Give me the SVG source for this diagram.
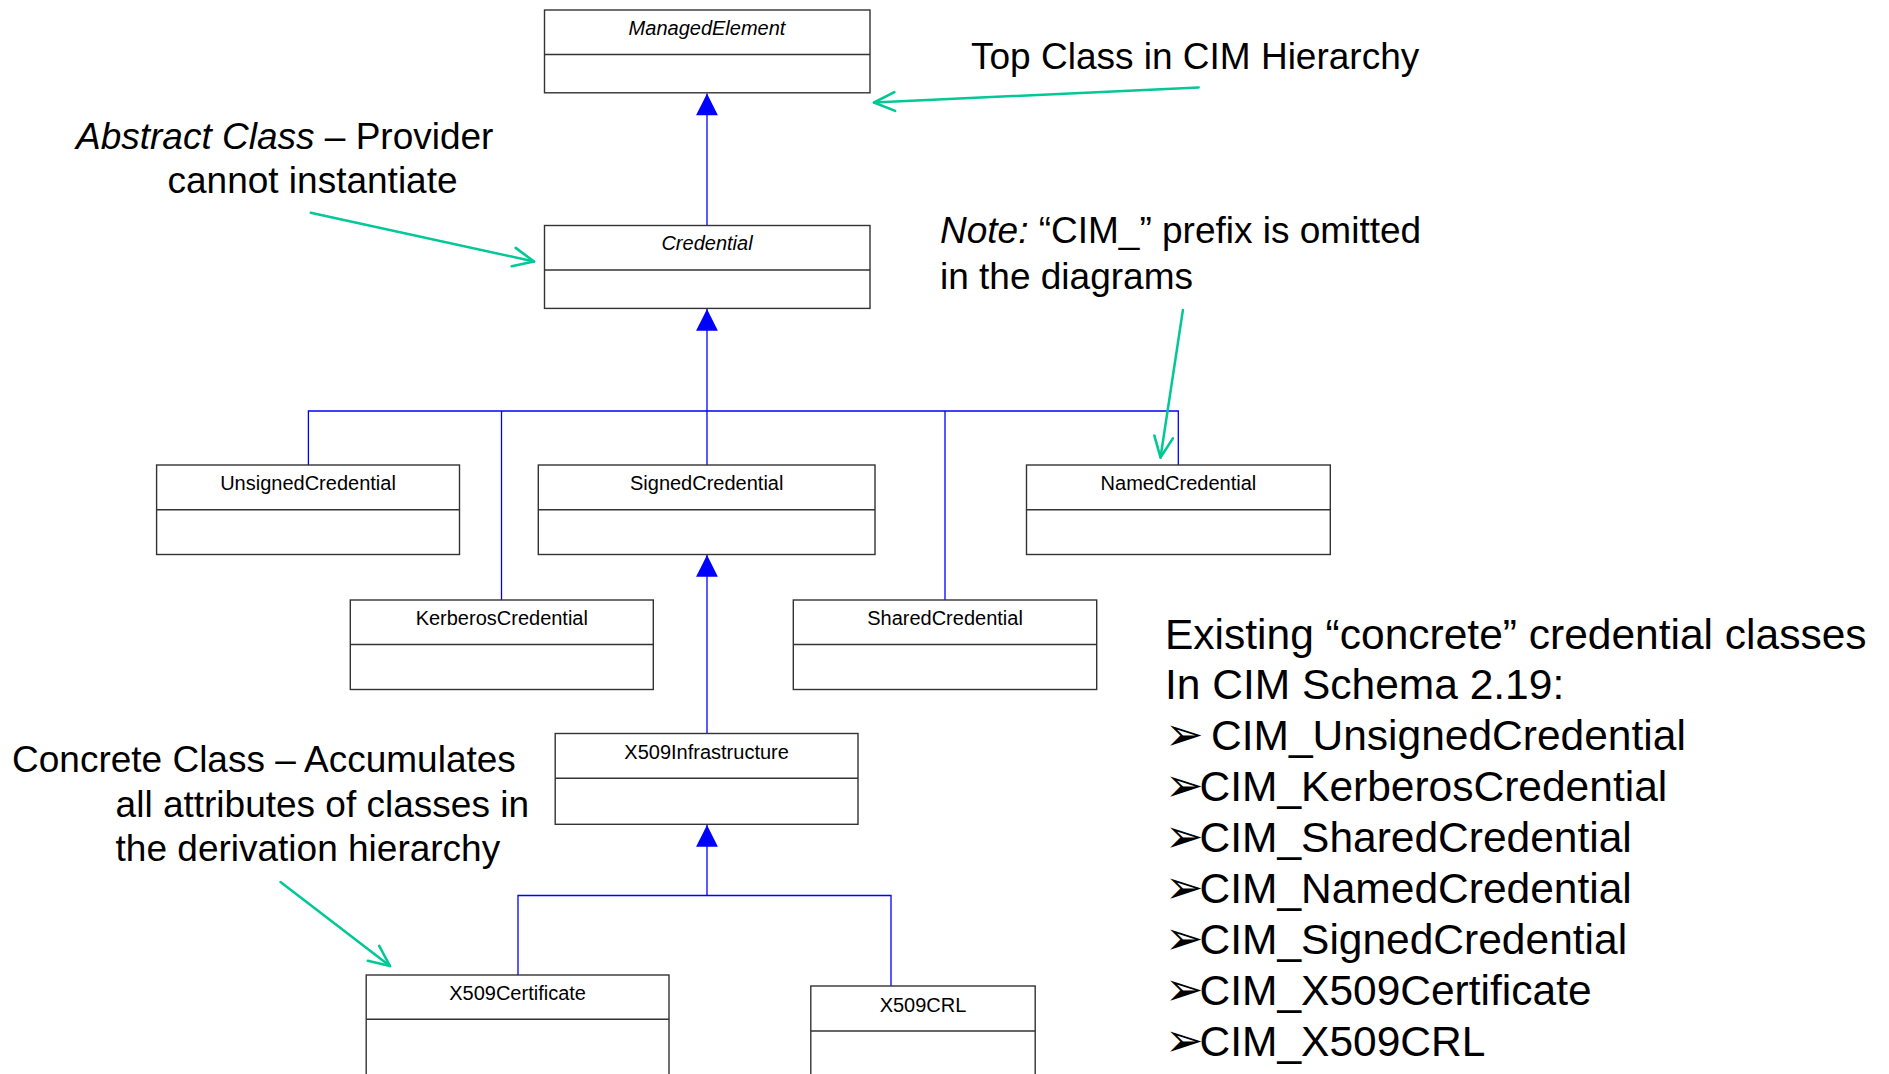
<svg xmlns="http://www.w3.org/2000/svg" width="1889" height="1074" viewBox="0 0 1889 1074">
<defs>
<style>
.box{fill:#fff;stroke:#333;stroke-width:1.4}
.div{stroke:#333;stroke-width:1.4}
.cls{font-family:"Liberation Sans",Arial,sans-serif;font-size:20px;text-anchor:middle;fill:#000}
.it{font-style:italic}
.ann{font-family:"Liberation Sans",Arial,sans-serif;font-size:37px;fill:#000}
.big{font-family:"Liberation Sans",Arial,sans-serif;font-size:42.5px;fill:#000}
.bul{font-family:"DejaVu Sans",sans-serif;font-size:46px}
.conn{stroke:#0000ff;stroke-width:1.3;fill:none}
.callout{stroke:#00c896;stroke-width:2.5;fill:none;stroke-linecap:round}
</style>
<marker id="inh" markerUnits="userSpaceOnUse" markerWidth="24" markerHeight="24" viewBox="-21 -11 22 22" refX="0" refY="0" orient="auto">
<path d="M0,0 L-20,-10 L-20,10 Z" fill="#0000ff"/>
</marker>
<marker id="open" markerUnits="userSpaceOnUse" markerWidth="26" markerHeight="26" viewBox="-23 -12 25 24" refX="0" refY="0" orient="auto">
<path d="M-20,-9 L0,0 L-20,9" fill="none" stroke="#00c896" stroke-width="2.5" stroke-linecap="round" stroke-linejoin="round"/>
</marker>
</defs>
<rect width="1889" height="1074" fill="#fff"/>

<g id="connectors">
<path class="conn" d="M707,225.5 V93.5" marker-end="url(#inh)"/>
<path class="conn" d="M707,411 V309" marker-end="url(#inh)"/>
<path class="conn" d="M308.4,465 V411 H1178.3 V465 M501.5,411 V600 M707,411 V465 M945,411 V600"/>
<path class="conn" d="M707,733.5 V555" marker-end="url(#inh)"/>
<path class="conn" d="M707,895.5 V825" marker-end="url(#inh)"/>
<path class="conn" d="M518,975 V895.5 H891 V986"/>
</g>

<g id="managed-element">
<rect class="box" x="544.5" y="10" width="325.5" height="82.8"/>
<line class="div" x1="544.5" y1="54.5" x2="870" y2="54.5"/>
<text class="cls it" x="707" y="35">ManagedElement</text>
</g>
<g id="credential">
<rect class="box" x="544.5" y="225.5" width="325.5" height="82.9"/>
<line class="div" x1="544.5" y1="270" x2="870" y2="270"/>
<text class="cls it" x="707" y="250">Credential</text>
</g>
<g id="unsigned-credential">
<rect class="box" x="156.6" y="465" width="302.9" height="89.5"/>
<line class="div" x1="156.6" y1="509.7" x2="459.5" y2="509.7"/>
<text class="cls" x="308" y="490">UnsignedCredential</text>
</g>
<g id="signed-credential">
<rect class="box" x="538.3" y="465" width="336.7" height="89.5"/>
<line class="div" x1="538.3" y1="509.7" x2="875" y2="509.7"/>
<text class="cls" x="706.7" y="490">SignedCredential</text>
</g>
<g id="named-credential">
<rect class="box" x="1026.5" y="465" width="303.8" height="89.5"/>
<line class="div" x1="1026.5" y1="509.7" x2="1330.3" y2="509.7"/>
<text class="cls" x="1178.4" y="490">NamedCredential</text>
</g>
<g id="kerberos-credential">
<rect class="box" x="350.3" y="600" width="303" height="89.5"/>
<line class="div" x1="350.3" y1="644.5" x2="653.3" y2="644.5"/>
<text class="cls" x="501.8" y="625">KerberosCredential</text>
</g>
<g id="shared-credential">
<rect class="box" x="793.3" y="600" width="303.4" height="89.5"/>
<line class="div" x1="793.3" y1="644.5" x2="1096.7" y2="644.5"/>
<text class="cls" x="945" y="625">SharedCredential</text>
</g>
<g id="x509-infrastructure">
<rect class="box" x="555.2" y="733.5" width="302.8" height="90.8"/>
<line class="div" x1="555.2" y1="778.3" x2="858" y2="778.3"/>
<text class="cls" x="706.6" y="758.5">X509Infrastructure</text>
</g>
<g id="x509-certificate">
<rect class="box" x="366.2" y="975" width="302.8" height="110"/>
<line class="div" x1="366.2" y1="1019.3" x2="669" y2="1019.3"/>
<text class="cls" x="517.6" y="1000">X509Certificate</text>
</g>
<g id="x509-crl">
<rect class="box" x="810.8" y="986" width="224.4" height="100"/>
<line class="div" x1="810.8" y1="1031" x2="1035.2" y2="1031"/>
<text class="cls" x="923" y="1012">X509CRL</text>
</g>

<g id="annotations">
<text class="ann" x="971" y="68.5">Top Class in CIM Hierarchy</text>
<path class="callout" d="M1198.7,87.5 L874,102.5" marker-end="url(#open)"/>
<text class="ann" x="76" y="149"><tspan font-style="italic">Abstract Class</tspan> – Provider</text>
<text class="ann" x="167.5" y="193">cannot instantiate</text>
<path class="callout" d="M310.7,212.7 L534,261.5" marker-end="url(#open)"/>
<text class="ann" x="940" y="243.3"><tspan font-style="italic">Note:</tspan> “CIM_” prefix is omitted</text>
<text class="ann" x="940" y="288.7">in the diagrams</text>
<path class="callout" d="M1182.9,310 L1160.5,457.5" marker-end="url(#open)"/>
<text class="ann" x="12" y="772">Concrete Class – Accumulates</text>
<text class="ann" x="115.6" y="816.5">all attributes of classes in</text>
<text class="ann" x="115.6" y="861">the derivation hierarchy</text>
<path class="callout" d="M280.5,882 L390,966" marker-end="url(#open)"/>
</g>

<g id="concrete-list">
<text class="big" x="1165" y="648.5">Existing “concrete” credential classes</text>
<text class="big" x="1165" y="699.4">In CIM Schema 2.19:</text>
<text class="big" y="750.3"><tspan class="bul" x="1165">➢</tspan><tspan x="1211">CIM_UnsignedCredential</tspan></text>
<text class="big" y="801.2"><tspan class="bul" x="1165">➢</tspan><tspan x="1199.5">CIM_KerberosCredential</tspan></text>
<text class="big" y="852.1"><tspan class="bul" x="1165">➢</tspan><tspan x="1199.5">CIM_SharedCredential</tspan></text>
<text class="big" y="903"><tspan class="bul" x="1165">➢</tspan><tspan x="1199.5">CIM_NamedCredential</tspan></text>
<text class="big" y="953.9"><tspan class="bul" x="1165">➢</tspan><tspan x="1199.5">CIM_SignedCredential</tspan></text>
<text class="big" y="1004.8"><tspan class="bul" x="1165">➢</tspan><tspan x="1199.5">CIM_X509Certificate</tspan></text>
<text class="big" y="1055.7"><tspan class="bul" x="1165">➢</tspan><tspan x="1199.5">CIM_X509CRL</tspan></text>
</g>
</svg>
